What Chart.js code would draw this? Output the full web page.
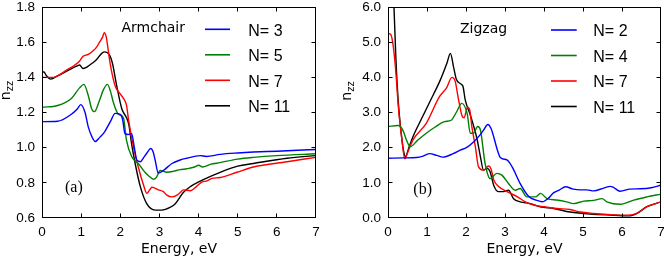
<!DOCTYPE html>
<html><head><meta charset="utf-8">
<script src="https://cdn.jsdelivr.net/npm/chart.js@4.4.0/dist/chart.umd.min.js"></script>
<style>
html,body{margin:0;padding:0;background:#fff;}
#wrap{position:relative;width:664px;height:258px;overflow:hidden;background:#fff;}
.pane{position:absolute;top:0;width:332px;height:258px;}
</style></head><body>
<div id="wrap">
<div class="pane" style="left:0"><canvas id="c1" width="332" height="258"></canvas></div>
<div class="pane" style="left:332px"><canvas id="c2" width="332" height="258"></canvas></div>
</div>
<script>
// ---------- (a) Armchair ----------
const acE3 = [0,0.4,0.75,0.9,0.99,1.1,1.18,1.28,1.36,1.48,1.6,1.75,1.87,2.0,2.06,2.12,2.2,2.29,2.36,2.42,2.51,2.6,2.68,2.78,2.84,2.89,2.97,3.1,3.32,3.53,3.7,4.04,4.2,4.55,5.0,5.4,6.0,7.0];
const acN3 = [1.148,1.15,1.19,1.22,1.245,1.2,1.12,1.06,1.035,1.06,1.09,1.15,1.195,1.19,1.16,1.08,1.075,1.08,1.0,0.93,0.92,0.945,0.97,0.995,0.975,0.93,0.855,0.87,0.91,0.93,0.94,0.955,0.95,0.962,0.97,0.975,0.98,0.99];
const acE5 = [0,0.4,0.75,0.96,1.07,1.19,1.27,1.34,1.47,1.57,1.67,1.75,1.82,1.95,2.08,2.16,2.29,2.46,2.63,2.75,2.85,2.92,3.02,3.19,3.35,3.53,3.7,3.9,4.0,4.1,4.3,4.55,5.0,5.4,6.0,7.0];
const acN5 = [1.23,1.24,1.28,1.34,1.36,1.29,1.22,1.205,1.27,1.33,1.36,1.32,1.26,1.19,1.17,1.04,0.95,0.91,0.86,0.835,0.82,0.83,0.87,0.86,0.865,0.875,0.88,0.89,0.9,0.89,0.905,0.915,0.935,0.945,0.955,0.965];
const acE7 = [0,0.3,0.41,0.62,0.84,0.95,1.05,1.18,1.3,1.39,1.47,1.55,1.59,1.64,1.74,1.87,1.95,2.08,2.16,2.21,2.34,2.46,2.59,2.68,2.75,2.81,2.98,3.1,3.19,3.32,3.45,3.53,3.61,3.79,3.95,4.09,4.2,4.34,4.55,4.98,5.4,6.26,7.0];
const acN7 = [1.40,1.40,1.41,1.44,1.47,1.49,1.52,1.53,1.55,1.57,1.60,1.63,1.654,1.63,1.48,1.35,1.32,1.28,1.24,1.16,1.0,0.89,0.79,0.74,0.76,0.775,0.76,0.75,0.73,0.72,0.73,0.745,0.76,0.755,0.78,0.805,0.81,0.825,0.83,0.86,0.89,0.92,0.945];
const acE11 = [0,0.05,0.11,0.22,0.41,0.67,0.9,0.96,1.05,1.12,1.22,1.39,1.5,1.59,1.73,1.8,1.91,2.04,2.16,2.22,2.29,2.38,2.51,2.68,2.89,3.06,3.27,3.4,3.61,3.8,4.04,4.55,5.0,5.4,6.26,7.0];
const acN11 = [1.43,1.43,1.41,1.39,1.41,1.44,1.465,1.47,1.45,1.455,1.47,1.5,1.53,1.545,1.525,1.48,1.35,1.22,1.17,1.13,1.02,0.91,0.78,0.68,0.645,0.645,0.66,0.68,0.745,0.78,0.81,0.86,0.895,0.91,0.94,0.955];
const acLabels = ['N= 3','N= 5','N= 7','N= 11'];
const acYTicks = [0.6,0.8,1.0,1.2,1.4,1.6,1.8];

// ---------- (b) Zigzag ----------
const zzE2 = [0,0.4,0.73,0.9,1.07,1.25,1.41,1.67,1.85,2.01,2.2,2.35,2.45,2.56,2.64,2.71,2.8,2.88,3.05,3.18,3.39,3.61,3.82,3.95,4.1,4.25,4.4,4.55,4.75,4.93,5.1,5.27,5.53,5.7,5.78,5.95,6.2,6.47,6.75,7.0];
const zzN2 = [1.70,1.71,1.72,1.76,1.83,1.78,1.73,1.83,1.93,2.0,2.17,2.35,2.5,2.66,2.55,2.31,1.95,1.72,1.65,1.46,0.98,0.61,0.5,0.46,0.55,0.72,0.8,0.89,0.82,0.8,0.8,0.77,0.85,0.9,0.87,0.76,0.82,0.83,0.86,0.93];
const zzE4 = [0,0.26,0.38,0.48,0.57,0.75,0.98,1.2,1.45,1.62,1.75,1.89,2.03,2.11,2.19,2.3,2.37,2.49,2.62,2.79,2.92,3.09,3.26,3.39,3.56,3.78,3.91,4.08,4.33,4.58,4.76,5.02,5.27,5.49,5.61,5.96,6.3,6.64,7.0];
const zzN4 = [2.6,2.63,2.5,2.2,2.03,2.2,2.41,2.58,2.74,2.78,3.0,3.26,2.97,2.41,2.41,2.6,2.5,1.55,1.12,1.27,1.22,0.98,0.79,0.84,0.6,0.6,0.7,0.55,0.51,0.46,0.41,0.48,0.5,0.55,0.46,0.39,0.51,0.6,0.68];
const zzE7 = [0,0.07,0.12,0.19,0.27,0.36,0.43,0.5,0.64,0.98,1.32,1.5,1.64,1.72,1.81,1.9,1.95,2.04,2.1,2.15,2.24,2.32,2.45,2.58,2.64,2.71,2.83,3.05,3.31,3.52,3.73,3.99,4.33,4.67,4.93,5.27,5.78,6.17,6.38,6.64,7.0];
const zzN7 = [5.25,5.22,5.0,4.3,3.1,2.2,1.68,1.85,2.22,2.69,3.45,3.7,4.0,3.9,3.36,2.9,2.85,3.15,3.05,2.6,2.03,1.46,1.36,1.48,1.4,1.09,0.9,0.75,0.61,0.46,0.37,0.32,0.27,0.24,0.17,0.13,0.09,0.08,0.13,0.32,0.46];
const zzE11 = [0,0.1,0.15,0.2,0.26,0.34,0.4,0.45,0.52,0.64,0.85,1.07,1.34,1.51,1.6,1.68,1.75,1.84,1.92,1.98,2.11,2.19,2.28,2.37,2.45,2.54,2.62,2.71,2.83,2.96,3.09,3.22,3.39,3.65,3.9,4.25,4.67,5.18,5.78,6.21,6.38,6.64,7.0];
const zzN11 = [12,8,6.1,4.6,3.36,2.4,1.9,1.74,1.95,2.31,2.8,3.3,3.92,4.4,4.68,4.3,3.95,3.83,3.75,3.36,2.93,2.64,2.26,1.74,1.36,1.41,1.31,0.93,0.75,0.75,0.79,0.55,0.46,0.41,0.32,0.27,0.17,0.11,0.08,0.06,0.13,0.32,0.46];
const zzLabels = ['N= 2','N= 4','N= 7','N= 11'];
const zzYTicks = [0,1,2,3,4,5,6];

const energyTicks = [0,1,2,3,4,5,6,7];
const seriesColors = ['#0000ff','#008000','#ff0000','#000000'];

function pts(E, V) { return E.map((e, i) => ({x: e, y: V[i]})); }

const decorPlugin = {
  id: 'decor',
  afterDatasetsDraw(chart, args, o) {
    const ctx = chart.ctx, a = chart.chartArea, xs = chart.scales.x, ys = chart.scales.y;
    ctx.save();
    const L = Math.round(a.left) + 0.5, R = Math.round(a.right) - 0.5;
    const T = Math.round(a.top) + 0.5, B = Math.round(a.bottom) - 0.5;
    const clamp = (v, lo, hi) => Math.max(lo, Math.min(hi, v));
    ctx.strokeStyle = '#000'; ctx.lineWidth = 1;
    ctx.beginPath();
    xs.ticks.forEach(t => {
      const p = clamp(Math.round(xs.getPixelForValue(t.value) - 0.5) + 0.5, L, R);
      ctx.moveTo(p, B); ctx.lineTo(p, B - o.tickLen);
      ctx.moveTo(p, T); ctx.lineTo(p, T + o.tickLen);
    });
    ys.ticks.forEach(t => {
      const p = clamp(Math.round(ys.getPixelForValue(t.value) - 0.5) + 0.5, T, B);
      ctx.moveTo(L, p); ctx.lineTo(L + o.tickLen, p);
      ctx.moveTo(R, p); ctx.lineTo(R - o.tickLen, p);
    });
    ctx.stroke();
    ctx.strokeRect(L, T, R - L, B - T);

    // y title n_zz
    ctx.save();
    ctx.translate(o.yTitleX, o.yTitleY);
    ctx.rotate(-Math.PI / 2);
    ctx.fillStyle = '#000';
    ctx.textAlign = 'left'; ctx.textBaseline = 'alphabetic';
    ctx.font = '14px "DejaVu Sans"';
    const w1 = ctx.measureText(o.yTitle[0]).width;
    ctx.font = '10px "DejaVu Sans"';
    const w2 = ctx.measureText(o.yTitle[1]).width;
    const s = -(w1 + w2) / 2;
    ctx.font = '14px "DejaVu Sans"';
    ctx.fillText(o.yTitle[0], s, 0);
    ctx.font = '10px "DejaVu Sans"';
    ctx.fillText(o.yTitle[1], s + w1, 3);
    ctx.restore();

    // annotations
    ctx.fillStyle = '#000'; ctx.textAlign = 'left'; ctx.textBaseline = 'alphabetic';
    o.notes.forEach(n => { ctx.font = n.font; ctx.fillText(n.text, n.x, n.y); });

    // legend
    chart.data.datasets.forEach((ds, i) => {
      const y = o.legY + i * o.legDy;
      ctx.strokeStyle = ds.borderColor; ctx.lineWidth = 1.6;
      ctx.beginPath(); ctx.moveTo(o.legX0, y); ctx.lineTo(o.legX1, y); ctx.stroke();
      ctx.fillStyle = '#000'; ctx.font = '16px "Liberation Sans"';
      ctx.fillText(ds.label, o.legTextX, y + 6.4);
    });
    ctx.restore();
  }
};

function makeChart(id, cfg) {
  const datasets = cfg.series.map((s, i) => ({
    label: cfg.labels[i],
    data: pts(s[0], s[1]),
    borderColor: seriesColors[i],
    borderWidth: 1.4,
    pointRadius: 0,
    fill: false,
    cubicInterpolationMode: 'monotone'
  }));
  const tickFont = {family: '"Liberation Sans"', size: 13.5};
  return new Chart(document.getElementById(id), {
    type: 'line',
    data: {datasets},
    plugins: [decorPlugin],
    options: {
      responsive: false, animation: false, devicePixelRatio: 1,
      layout: {padding: {top: 7, right: cfg.padRight, left: 0, bottom: 0}},
      plugins: {
        legend: {display: false}, tooltip: {enabled: false},
        decor: cfg.decor
      },
      scales: {
        x: {
          type: 'linear', min: 0, max: 7,
          afterBuildTicks: sc => { sc.ticks = energyTicks.map(v => ({value: v})); },
          afterFit: sc => { sc.height = 40; sc.paddingLeft = 0; sc.paddingRight = 0; },
          grid: {display: false, drawTicks: false},
          border: {display: false},
          ticks: {color: '#000', font: tickFont, padding: 6, autoSkip: false, maxRotation: 0,
                  callback: v => String(v)},
          title: {display: true, text: 'Energy, eV', color: '#000',
                  font: {family: '"DejaVu Sans"', size: 14}, padding: {top: 0, bottom: 0}}
        },
        y: {
          type: 'linear', min: cfg.yMin, max: cfg.yMax,
          afterBuildTicks: sc => { sc.ticks = cfg.yTicks.map(v => ({value: v})); },
          afterFit: sc => { sc.width = cfg.yWidth; sc.paddingTop = 0; sc.paddingBottom = 0; },
          grid: {display: false, drawTicks: false},
          border: {display: false},
          ticks: {color: '#000', font: tickFont, padding: 7, autoSkip: false,
                  callback: v => Number(v).toFixed(1)}
        }
      }
    }
  });
}

makeChart('c1', {
  series: [[acE3, acN3], [acE5, acN5], [acE7, acN7], [acE11, acN11]],
  labels: acLabels, yMin: 0.6, yMax: 1.8, yTicks: acYTicks, yWidth: 42, padRight: 16,
  decor: {
    tickLen: 4, yTitle: ['n', 'zz'], yTitleX: 9.5, yTitleY: 90.5,
    notes: [
      {text: 'Armchair', x: 121.5, y: 32.3, font: '14px "DejaVu Sans"'},
      {text: '(a)', x: 65, y: 192, font: '16px "Liberation Serif"'}
    ],
    legX0: 205, legX1: 230, legY: 29.3, legDy: 25.5, legTextX: 248.3
  }
});

makeChart('c2', {
  series: [[zzE2, zzN2], [zzE4, zzN4], [zzE7, zzN7], [zzE11, zzN11]],
  labels: zzLabels, yMin: 0, yMax: 6, yTicks: zzYTicks, yWidth: 56, padRight: 3,
  decor: {
    tickLen: 4, yTitle: ['n', 'zz'], yTitleX: 18.5, yTitleY: 91,
    notes: [
      {text: 'Zigzag', x: 128, y: 33, font: '14px "DejaVu Sans"'},
      {text: '(b)', x: 81.3, y: 193.5, font: '16px "Liberation Serif"'}
    ],
    legX0: 219, legX1: 244.7, legY: 30, legDy: 25.5, legTextX: 261.3
  }
});
</script>
</body></html>
